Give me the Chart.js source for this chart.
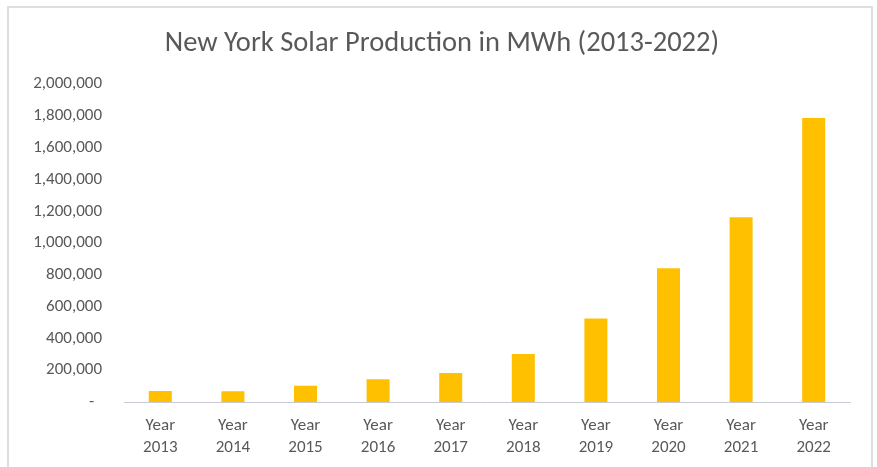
<!DOCTYPE html>
<html>
<head>
<meta charset="utf-8">
<script src="https://cdn.jsdelivr.net/npm/chart.js@4/dist/chart.umd.min.js"></script>
<style>
  html, body { margin: 0; padding: 0; background: #ffffff; }
  #wrap { width: 877px; height: 467px; position: relative; }
</style>
</head>
<body>
<div id="wrap"><canvas id="chart" width="877" height="467"></canvas></div>
<script>
// Annual solar generation in New York, MWh
const years = ['2013', '2014', '2015', '2016', '2017', '2018', '2019', '2020', '2021', '2022'];
const categoryLabels = years.map(y => ['Year', y]);
const productionMWh = [69000, 68000, 102000, 143000, 182000, 302000, 526000, 841000, 1162000, 1788000];
const yTickMax = 2000000;
const yTickStep = 200000;

const textColor = '#595959';
const fontFamily = 'Calibri, Carlito, Lato, "Open Sans", sans-serif';

// Light frame around the whole chart
const framePlugin = {
  id: 'frame',
  beforeDraw(chart) {
    const ctx = chart.ctx;
    ctx.save();
    ctx.fillStyle = '#ffffff';
    ctx.fillRect(0, 0, chart.width, chart.height);
    ctx.strokeStyle = '#dedede';
    ctx.lineWidth = 2;
    ctx.strokeRect(8, 7, 864, 470);
    ctx.restore();
  }
};

new Chart(document.getElementById('chart'), {
  type: 'bar',
  data: {
    labels: categoryLabels,
    datasets: [{
      label: 'Solar production (MWh)',
      data: productionMWh,
      backgroundColor: '#FFC000',
      borderWidth: 0,
      categoryPercentage: 1.0,
      barPercentage: 0.317
    }]
  },
  options: {
    responsive: false,
    animation: false,
    devicePixelRatio: 1,
    layout: { padding: { left: 34, right: 27, top: 0, bottom: 0 } },
    plugins: {
      legend: { display: false },
      tooltip: { enabled: false },
      title: {
        display: true,
        text: 'New York Solar Production in MWh (2013-2022)',
        color: textColor,
        font: { family: fontFamily, size: 28.5, weight: 'normal', lineHeight: 1.2 },
        padding: { top: 27, bottom: 23 }
      }
    },
    scales: {
      x: {
        grid: { display: false, drawTicks: false },
        border: { display: true, color: '#c8cbd6', width: 1 },
        ticks: {
          color: textColor,
          font: { family: fontFamily, size: 17, lineHeight: 1.3 },
          padding: 13,
          maxRotation: 0,
          autoSkip: false
        },
        afterFit(scale) { scale.height = 65; }
      },
      y: {
        min: 0,
        max: yTickMax,
        grid: { display: false, drawTicks: false },
        border: { display: false },
        ticks: {
          stepSize: yTickStep,
          color: textColor,
          font: { family: fontFamily, size: 17 },
          padding: 22,
          callback(value) {
            return value === 0 ? '-  ' : value.toLocaleString('en-US');
          }
        },
        afterFit(scale) { scale.width = 90; }
      }
    }
  },
  plugins: [framePlugin]
});
</script>
</body>
</html>
